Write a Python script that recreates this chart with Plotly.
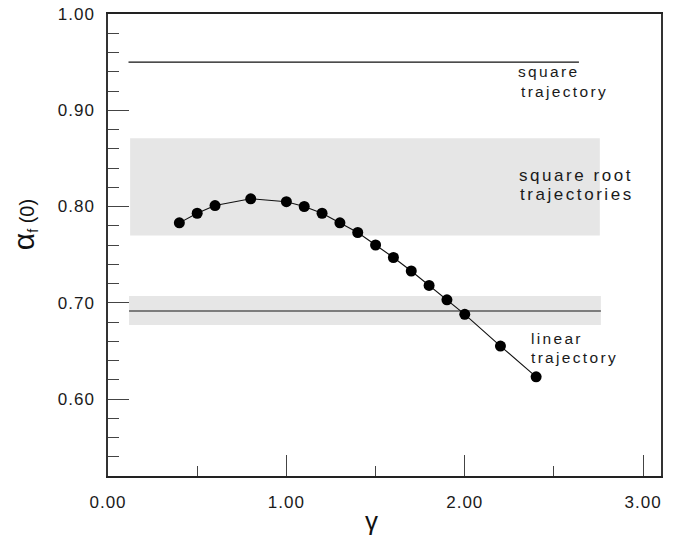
import plotly.graph_objects as go

# ---- data ----
gamma = [0.4, 0.5, 0.6, 0.8, 1.0, 1.1, 1.2, 1.3, 1.4, 1.5, 1.6, 1.7, 1.8, 1.9, 2.0, 2.2, 2.4]
alpha_f0 = [0.783, 0.793, 0.801, 0.808, 0.805, 0.800, 0.793, 0.783, 0.773, 0.760, 0.747,
            0.733, 0.718, 0.703, 0.688, 0.655, 0.623]

square_level = 0.95
square_x = [0.115, 2.64]

sqrt_band_y = [0.770, 0.871]
sqrt_band_x = [0.124, 2.757]

linear_level = 0.6915
linear_band_y = [0.677, 0.707]
linear_band_x = [0.118, 2.763]

x_tickvals = [0, 1, 2, 3]
x_ticktext = ["0.00", "1.00", "2.00", "3.00"]
y_tickvals = [0.6, 0.7, 0.8, 0.9, 1.0]
y_ticktext = ["0.60", "0.70", "0.80", "0.90", "1.00"]

FONT = "Liberation Sans, Arial, sans-serif"

fig = go.Figure()

# grey bands
fig.add_shape(type="rect", xref="x", yref="y",
              x0=sqrt_band_x[0], x1=sqrt_band_x[1], y0=sqrt_band_y[0], y1=sqrt_band_y[1],
              fillcolor="#e6e6e6", line_width=0, layer="below")
fig.add_shape(type="rect", xref="x", yref="y",
              x0=linear_band_x[0], x1=linear_band_x[1], y0=linear_band_y[0], y1=linear_band_y[1],
              fillcolor="#e6e6e6", line_width=0, layer="below")

# square trajectory line
fig.add_trace(go.Scatter(x=square_x, y=[square_level, square_level], mode="lines",
                         line=dict(color="#111111", width=1.3), hoverinfo="skip"))
# linear trajectory line
fig.add_trace(go.Scatter(x=linear_band_x, y=[linear_level, linear_level], mode="lines",
                         line=dict(color="#5a5a5a", width=1.6), hoverinfo="skip"))
# data
fig.add_trace(go.Scatter(x=gamma, y=alpha_f0, mode="lines+markers",
                         line=dict(color="#111111", width=1.1),
                         marker=dict(color="#000000", size=11)))

ann_font_small = dict(family=FONT, size=15.5, color="#1a1a1a")
ann_font_big = dict(family=FONT, size=17, color="#1a1a1a")
labels = [
    ("square", 2.285, 0.9405, ann_font_small),
    ("trajectory", 2.305, 0.920, ann_font_small),
    ("square root", 2.295, 0.8325, ann_font_big),
    ("trajectories", 2.299, 0.8125, ann_font_big),
    ("linear", 2.362, 0.6625, ann_font_small),
    ("trajectory", 2.358, 0.6435, ann_font_small),
]
for txt, x, y, f in labels:
    fig.add_annotation(x=x, y=y, xref="x", yref="y", text=txt, showarrow=False,
                       xanchor="left", yanchor="middle", align="left", font=f)

# axis titles
fig.add_annotation(xref="paper", yref="paper", x=-0.152, y=0.545,
                   text='<span style="font-size:30px">α</span><sub>f</sub> (0)',
                   textangle=-90, showarrow=False, xanchor="center", yanchor="middle",
                   font=dict(family=FONT, size=20, color="#111111"))
fig.add_annotation(xref="paper", yref="paper", x=0.476, y=-0.098,
                   text="γ", showarrow=False, xanchor="center", yanchor="middle",
                   font=dict(family=FONT, size=26, color="#111111"))

fig.update_layout(
    width=679, height=537,
    margin=dict(l=107.5, r=18.3, t=13.5, b=61.3, autoexpand=False),
    paper_bgcolor="white", plot_bgcolor="white",
    showlegend=False,
    font=dict(family=FONT, size=17, color="#1a1a1a"),
)
fig.update_xaxes(
    range=[0, 3.1], tickmode="array", tickvals=x_tickvals, ticktext=x_ticktext,
    ticks="inside", ticklen=21, tickwidth=1.3, tickcolor="#444444",
    showline=True, linecolor="#222222", linewidth=1.5, mirror=True,
    showgrid=False, zeroline=False, ticklabelstandoff=10, automargin=False,
    minor=dict(tickmode="array", tickvals=[0.5, 1.5, 2.5], ticks="inside",
               ticklen=10, tickwidth=1.3, tickcolor="#444444", showgrid=False),
    tickfont=dict(family=FONT, size=17, color="#1a1a1a"),
)
fig.update_yaxes(
    range=[0.52, 1.0], tickmode="array", tickvals=y_tickvals, ticktext=y_ticktext,
    ticks="inside", ticklen=21, tickwidth=1.3, tickcolor="#444444",
    showline=True, linecolor="#333333", linewidth=1.5, mirror=True,
    showgrid=False, zeroline=False, ticklabelstandoff=8, automargin=False,
    minor=dict(tickmode="linear", tick0=0.52, dtick=0.02, ticks="inside",
               ticklen=11, tickwidth=1.3, tickcolor="#444444", showgrid=False),
    tickfont=dict(family=FONT, size=17, color="#1a1a1a"),
)

post = """
document.body.style.margin='0';
document.body.style.overflow='hidden';
var gd = document.getElementById('{plot_id}');
gd.style.position='absolute'; gd.style.left='0px'; gd.style.top='0px';
function spacing(){
  gd.querySelectorAll('.xtick text, .ytick text').forEach(function(e){e.style.letterSpacing='1px';});
  gd.querySelectorAll('.annotation-text').forEach(function(e){
    if (/^[a-z ]+$/.test(e.textContent)) { e.style.letterSpacing='0.15em'; }
  });
}
spacing();
"""
fig.write_html("out.html", post_script=post, config={"displayModeBar": False})
